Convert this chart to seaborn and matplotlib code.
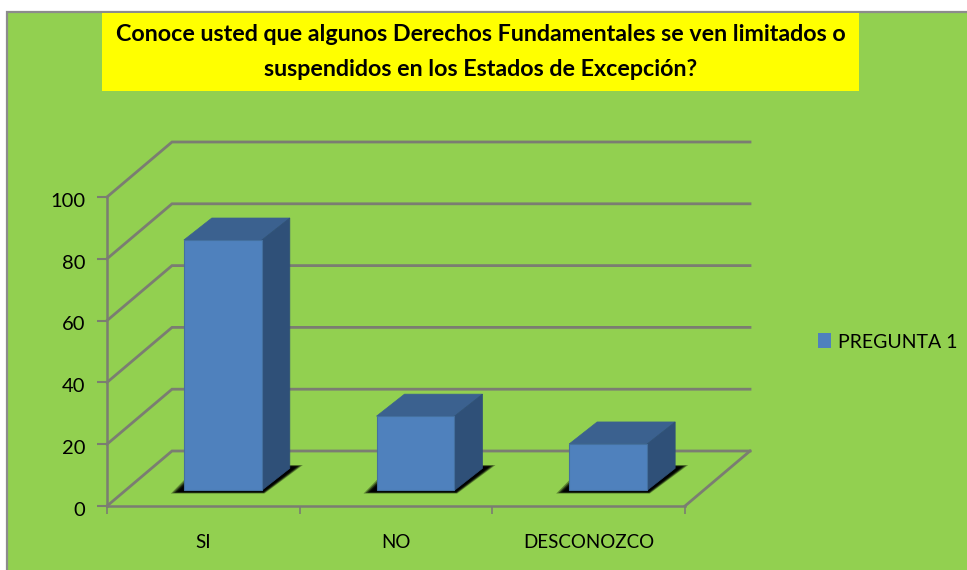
# Column chart with hand built 3D look | PREGUNTA 1
import pandas as pd
import seaborn as sns
import matplotlib.pyplot as plt
from matplotlib.patches import Polygon, Rectangle, Patch
from matplotlib.transforms import ScaledTranslation

categories = ["SI", "NO", "DESCONOZCO"]
values = [81, 24, 15]
y_ticks = [0, 20, 40, 60, 80, 100]
series_name = "PREGUNTA 1"
title = ("Conoce usted que algunos Derechos Fundamentales se ven limitados o\n"
         "suspendidos en los Estados de Excepción?")

W, H = 967, 570
GREEN = "#92D050"
GREY = "#7B7D72"
FRONT = "#4F81BD"
TOP = "#3B618F"
SIDE = "#2F5078"

plt.rcParams['font.family'] = ['Lato', 'DejaVu Sans']

fig = plt.figure(figsize=(W / 100, H / 100), dpi=100, facecolor="white")


def fx(px):
    return px / W


def fy(px):
    return 1 - px / H


# Chart area and yellow title box, in figure pixels (zorder below the axes)
fig.add_artist(Rectangle((fx(7), fy(590)), fx(990), 578 / H, transform=fig.transFigure,
                         facecolor=GREEN, edgecolor="#8C8C8C", linewidth=1.6, zorder=-2))
fig.add_artist(Rectangle((fx(102), fy(91)), fx(757), 78 / H, transform=fig.transFigure,
                         facecolor="#FFFF00", edgecolor="none", zorder=-1))
fig.text(fx(481), fy(52), title, ha="center", va="center", fontsize=16.75,
         fontweight="bold", color="black", linespacing=1.88)

# Front plane of the plot box
ax = fig.add_axes([fx(107), fy(506), 578 / W, 309 / H])
ax.patch.set_visible(False)

df = pd.DataFrame({"respuesta": categories, "valor": values})
sns.barplot(data=df, x="respuesta", y="valor", color=FRONT, saturation=1,
            width=78 / 192.67, ax=ax)
ax.set_xlim(-0.5, 2.5)
ax.set_ylim(0, 100)
ax.set_xlabel("")
ax.set_ylabel("")

# Pixel lengths converted to data units
xu = 3 / 578
yu = 100 / 309
wall_dx, wall_dy = 65 * xu, 55 * yu
lift_dx, lift_dy = 19.5 * xu, 15.7 * yu
bar_dx, bar_dy = 28 * xu, 22 * yu

# Back wall lines and left wall diagonals
x0, x1 = -0.5, 2.5
for v in y_ticks:
    ax.plot([x0, x0 + wall_dx, x1 + wall_dx], [v, v + wall_dy, v + wall_dy],
            color=GREY, lw=2, clip_on=False, zorder=1, solid_joinstyle="miter")
ax.plot([x1, x1 + wall_dx], [0, wall_dy], color=GREY, lw=2, clip_on=False, zorder=1)

# Move the bars onto the floor, then add shadow, top and side faces
for bar in ax.patches[:len(values)]:
    bar.set_x(bar.get_x() + lift_dx)
    bar.set_y(lift_dy)
    bar.set_zorder(4)
    bar.set_clip_on(False)
    bar.set_edgecolor("#44709F")
    bar.set_linewidth(0.8)
    left, right = bar.get_x(), bar.get_x() + bar.get_width()
    low, high = bar.get_y(), bar.get_y() + bar.get_height()
    # soft shadow made of stacked layers
    for grow, alpha in [(13, 0.35), (11, 0.5), (9, 0.7), (7, 0.85), (5, 1.0)]:
        gx, gy = grow * xu, grow * 0.25 * yu
        ax.add_patch(Polygon(
            [(left - gx, low - gy), (right + gx * 0.2, low - gy),
             (right + bar_dx + gx, low + bar_dy + gy), (left + bar_dx - gx, low + bar_dy + gy)],
            facecolor="black", edgecolor="none", alpha=alpha, clip_on=False, zorder=2))
    ax.add_patch(Polygon(
        [(left, high), (right, high), (right + bar_dx, high + bar_dy), (left + bar_dx, high + bar_dy)],
        facecolor=TOP, edgecolor=TOP, lw=0.5, clip_on=False, zorder=3))
    ax.add_patch(Polygon(
        [(right, low), (right + bar_dx, low + bar_dy), (right + bar_dx, high + bar_dy), (right, high)],
        facecolor=SIDE, edgecolor=SIDE, lw=0.5, clip_on=False, zorder=3))

# Axes styling
sns.despine(ax=ax, top=True, right=True)
for side in ["left", "bottom"]:
    ax.spines[side].set_color(GREY)
    ax.spines[side].set_linewidth(1.8)
    ax.spines[side].set_zorder(5)
ax.set_yticks(y_ticks)
ax.tick_params(axis="y", length=7, width=1.5, color=GREY, labelsize=14.5, pad=8.5, labelcolor="black")
ax.tick_params(axis="x", which="major", length=0, labelsize=13.5, pad=20, labelcolor="black")
ax.set_xticks([-0.5, 0.5, 1.5, 2.5], minor=True)
ax.tick_params(axis="x", which="minor", length=6, width=1.2, color=GREY)

# y labels sit slightly under their ticks in the reference
shift = ScaledTranslation(0, -2 / 72, fig.dpi_scale_trans)
for label in ax.get_yticklabels():
    label.set_transform(label.get_transform() + shift)

ax.legend(handles=[Patch(facecolor=FRONT, label=series_name)], loc="center left",
          bbox_to_anchor=(fx(818), fy(342)), bbox_transform=fig.transFigure, frameon=False,
          fontsize=14, handlelength=0.67, handleheight=0.77, handletextpad=0.36,
          labelcolor="black", borderaxespad=0, borderpad=0)

fig.savefig("out.png", dpi=100, facecolor="white")
